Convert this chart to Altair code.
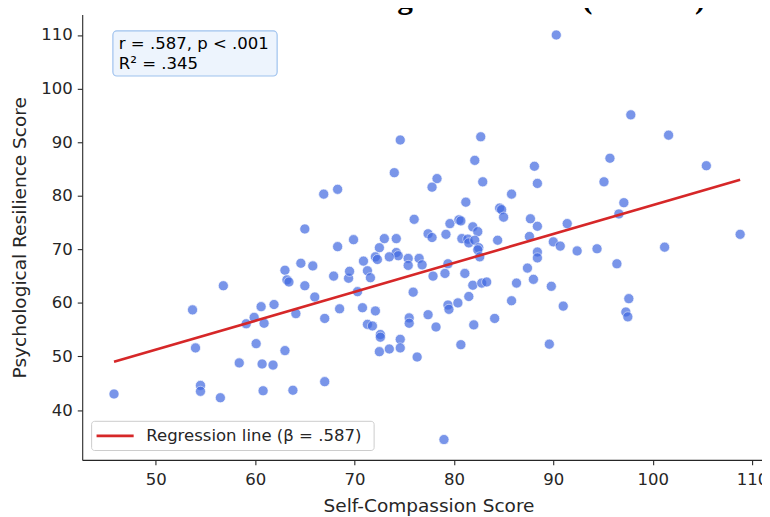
import altair as alt
import pandas as pd

# ---- data ----
self_compassion = [45.8, 53.7, 54.0, 54.5, 54.5, 56.5, 56.8, 58.4, 59.1, 59.9,
    60.6, 60.9, 60.1, 60.7, 61.8, 60.8, 61.9, 63.0, 63.8, 64.1,
    63.0, 63.2, 63.4, 64.6, 65.0, 65.0, 66.9, 68.3, 74.6, 74.0,
    78.3, 77.8, 82.7, 82.1, 82.9, 85.8, 81.2, 84.6, 84.8, 85.0,
    76.0, 79.6, 80.5, 81.9, 82.4, 77.4, 77.8, 79.2, 69.9, 68.3,
    73.0, 74.2, 72.5, 80.8, 81.4, 81.5, 82.1, 84.4, 82.5, 82.4,
    82.6, 74.2, 74.4, 72.1, 72.3, 73.5, 75.4, 75.4, 76.5, 76.8,
    79.4, 79.1, 81.1, 77.9, 65.8, 67.9, 69.4, 69.5, 70.9, 71.3,
    71.6, 66.0, 70.3, 68.5, 67.0, 70.8, 72.1, 71.3, 71.8, 72.6,
    72.6, 72.5, 73.5, 74.6, 74.6, 75.5, 75.5, 75.9, 76.3, 77.4,
    78.2, 79.4, 79.5, 80.4, 81.5, 81.9, 82.8, 83.3, 80.7, 82.0,
    84.1, 85.8, 86.3, 87.4, 67.0, 79.0, 88.1, 88.4, 87.7, 88.4,
    87.6, 90.0, 90.7, 88.4, 88.4, 88.0, 89.8, 91.4, 92.4, 94.4,
    101.2, 108.8, 90.3, 97.8, 101.6, 95.7, 105.4, 95.1, 97.1, 96.6,
    96.4, 91.0, 97.6, 97.3, 97.5, 89.6, 80.7]

resilience = [43.0, 58.7, 51.6, 44.6, 43.5, 42.3, 63.2, 48.8, 56.1, 57.3,
    59.3, 56.2, 52.4, 48.6, 48.4, 43.6, 59.7, 51.1, 43.7, 58.0,
    66.1, 64.3, 63.9, 67.4, 63.2, 73.8, 80.3, 81.2, 90.4, 84.3,
    83.2, 81.6, 91.0, 86.6, 82.6, 80.3, 78.8, 77.7, 77.4, 76.0,
    75.6, 74.8, 75.5, 74.2, 73.3, 72.9, 72.2, 72.8, 71.8, 70.5,
    72.0, 72.0, 70.3, 72.0, 71.9, 71.2, 71.7, 71.7, 70.3, 69.9,
    68.6, 69.4, 68.8, 68.6, 68.1, 68.6, 68.3, 67.0, 68.3, 67.1,
    67.3, 65.5, 65.5, 65.0, 66.9, 65.0, 64.6, 65.9, 67.8, 66.0,
    64.7, 61.1, 62.1, 58.9, 57.1, 59.1, 58.5, 56.0, 55.7, 54.1,
    53.6, 50.9, 51.4, 53.2, 51.6, 57.2, 56.2, 62.0, 49.9, 57.8,
    55.5, 59.6, 58.8, 60.0, 61.2, 63.3, 63.7, 63.9, 52.2, 55.9,
    57.1, 60.4, 63.7, 66.5, 45.3, 34.5, 85.5, 82.3, 75.7, 74.3,
    72.4, 71.4, 70.6, 69.5, 68.4, 64.4, 63.1, 74.8, 69.7, 70.1,
    70.4, 72.8, 110.0, 95.1, 91.3, 87.0, 85.6, 82.6, 78.7, 76.6,
    67.3, 59.4, 60.8, 58.3, 57.4, 52.3, 75.3]

reg_x = [45.8, 108.8]
reg_y = [49.0, 83.0]

x_ticks = [50, 60, 70, 80, 90, 100, 110]
y_ticks = [40, 50, 60, 70, 80, 90, 100, 110]

stats_lines = ["r = .587, p < .001", "R\u00b2 = .345"]
legend_label = "Regression line (\u03b2 = .587)"
title_text = "with Regression Line (N = 150)"
x_title = "Self-Compassion Score"
y_title = "Psychological Resilience Score"

# ---- chart ----
W, H = 687, 450
TXT = "#262626"
FONT = "DejaVu Sans"

pts = pd.DataFrame({"x": self_compassion, "y": resilience})
reg = pd.DataFrame({"x": reg_x, "y": reg_y})
one = pd.DataFrame({"a": [0]})

xscale = alt.Scale(domain=[42.6, 111.0], nice=False, zero=False)
yscale = alt.Scale(domain=[30.7, 113.8], nice=False, zero=False)

common_axis = dict(grid=False, domainColor=TXT, tickColor=TXT, labelColor=TXT,
                   titleColor=TXT, labelFontSize=16.7, titleFontSize=18.7,
                   labelFont=FONT, titleFont=FONT, titleFontWeight="normal",
                   tickSize=5, domainWidth=1.1, tickWidth=1.1,
                   labelOverlap=False, labelFlush=False)

xaxis = alt.Axis(values=x_ticks, title=x_title, labelPadding=7,
                 titleX=350, titleY=46, titleBaseline="middle",
                 titleAnchor="middle", **common_axis)
yaxis = alt.Axis(values=y_ticks, title=y_title, labelPadding=5,
                 titleX=-63, titleY=225, titleBaseline="middle",
                 titleAnchor="middle", **common_axis)

scatter = alt.Chart(pts).mark_circle(
    size=105, color="#4169E1", opacity=0.7, stroke="white", strokeWidth=0.7
).encode(
    x=alt.X("x:Q", scale=xscale, axis=xaxis),
    y=alt.Y("y:Q", scale=yscale, axis=yaxis),
)

line = alt.Chart(reg).mark_line(color="#d62728", strokeWidth=2.6).encode(
    x=alt.X("x:Q", scale=xscale),
    y=alt.Y("y:Q", scale=yscale),
)

# stats annotation box
ann_box = alt.Chart(one).mark_rect(
    fill="#edf4fd", stroke="#9ec2ee", strokeWidth=1.2, cornerRadius=4
).encode(x=alt.value(31), x2=alt.value(197), y=alt.value(16.5), y2=alt.value(62))

ann1 = alt.Chart(one).mark_text(
    align="left", baseline="middle", font=FONT, fontSize=16.7, color="black",
    text=stats_lines[0]
).encode(x=alt.value(37), y=alt.value(29.5))
ann2 = alt.Chart(one).mark_text(
    align="left", baseline="middle", font=FONT, fontSize=16.7, color="black",
    text=stats_lines[1]
).encode(x=alt.value(37), y=alt.value(49.5))

# legend
leg_box = alt.Chart(one).mark_rect(
    fill="white", fillOpacity=0.85, stroke="#cccccc", strokeWidth=1, cornerRadius=3
).encode(x=alt.value(9.5), x2=alt.value(295), y=alt.value(411), y2=alt.value(440.5))
leg_line = alt.Chart(one).mark_rule(color="#d62728", strokeWidth=2.6).encode(
    x=alt.value(14.5), x2=alt.value(52), y=alt.value(425.7))
leg_text = alt.Chart(one).mark_text(
    align="left", baseline="middle", font=FONT, fontSize=16.7, color=TXT,
    text=legend_label
).encode(x=alt.value(64.7), y=alt.value(425.7))

# title (clipped at the top in the reference)
title = alt.Chart(one).mark_text(
    align="center", baseline="alphabetic", font="Liberation Serif",
    fontSize=31.5, fontWeight="bold", color="black", text=title_text
).encode(x=alt.value(422), y=alt.value(-7))

chart = alt.layer(
    scatter, line, ann_box, ann1, ann2, leg_box, leg_line, leg_text, title
).properties(
    width=W, height=H,
    autosize=alt.AutoSizeParams(type="none"),
    padding={"left": 75, "top": 4, "right": 0, "bottom": 55},
    background="white",
).configure_view(stroke=None)

chart.save("out.html", embed_options={"renderer": "svg", "actions": False})
